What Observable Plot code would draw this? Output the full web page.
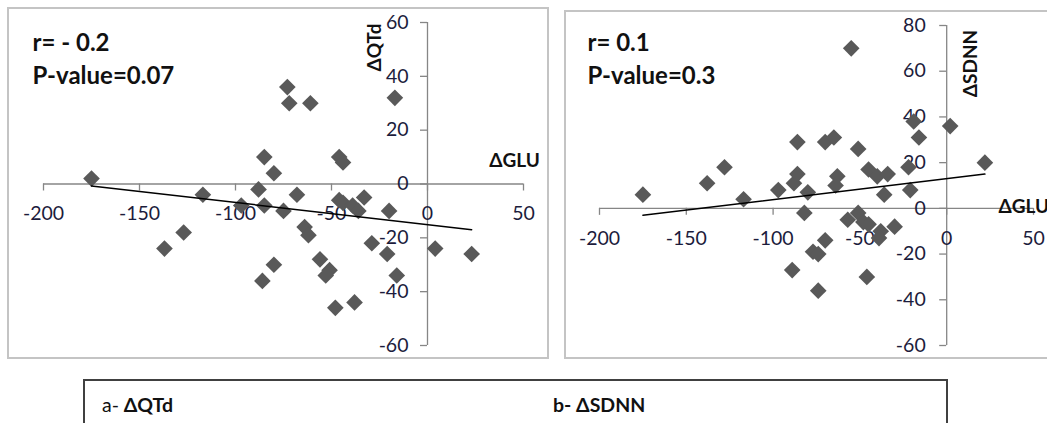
<!DOCTYPE html>
<html>
<head>
<meta charset="utf-8">
<script src="https://cdn.jsdelivr.net/npm/d3@7"></script>
<script src="https://cdn.jsdelivr.net/npm/@observablehq/plot@0.6"></script>
<style>
  html, body { margin: 0; padding: 0; background: #fff; }
  body { width: 1047px; height: 423px; overflow: hidden; position: relative; font-family: Lato, "Open Sans", sans-serif; }
  .panel { position: absolute; }
  .border { position: absolute; border: 2px solid #c4c4c4; box-sizing: border-box; pointer-events: none; }
  .caption { position: absolute; left: 83px; top: 379px; width: 865px; height: 80px; border: 2px solid #404040; box-sizing: border-box; }
  .cap { position: absolute; font-size: 19.5px; line-height: 1; color: #111; font-weight: 700; white-space: nowrap; }
  .cap .n { font-weight: 400; }
</style>
</head>
<body>
<div id="pa" class="panel" style="left:8px;top:8px;"></div>
<div class="border" style="left:7px;top:7px;width:542px;height:352px;"></div>
<div id="pb" class="panel" style="left:565px;top:11px;"></div>
<div class="border" style="left:564px;top:10px;width:520px;height:349px;"></div>
<div class="caption"></div>
<div class="cap" style="left:102px;top:395px;"><span class="n">a-</span> ΔQTd</div>
<div class="cap" style="left:553px;top:395px;">b- ΔSDNN</div>
<script>
// ---- Data ----
const xTicks = [-200, -150, -100, -50, 0, 50];
const yTicksA = [-60, -40, -20, 0, 20, 40, 60];
const yTicksB = [-60, -40, -20, 0, 20, 40, 60, 80];

// Panel a: ΔGLU vs ΔQTd
const gluA = [-175, -117, -137, -127, -97, -88, -85, -80, -85, -86, -80, -75, -73, -72, -61, -68, -64, -62, -56, -51, -53, -48, -38, -46, -44, -46, -44, -39, -33, -36, -17, -20, -29, -21, -16, 4, 23];
const qtd  = [2, -4, -24, -18, -8, -2, 10, 4, -8, -36, -30, -10, 36, 30, 30, -4, -16, -19, -28, -32, -34, -46, -44, 10, 8, -6, -7, -8, -5, -10, 32, -10, -22, -26, -34, -24, -26];
const trendA = {glu: [-175, 23], val: [-0.7, -17]};
const statsA = ["r= - 0.2", "P-value=0.07"];

// Panel b: ΔGLU vs ΔSDNN
const gluB = [-175, -138, -128, -117, -97, -88, -86, -86, -82, -89, -80, -70, -65, -63, -64, -55, -51, -45, -40, -34, -36, -22, -21, -19, -16, 2, 22, -57, -51, -48, -45, -38, -39, -30, -70, -77, -74, -46, -74];
const sdnn = [6, 11, 18, 4, 8, 11, 15, 29, -2, -27, 7, 29, 31, 14, 10, 70, 26, 17, 14, 15, 6, 18, 8, 38, 31, 36, 20, -5, -2, -6, -7, -10, -13, -8, -14, -19, -20, -30, -36];
const trendB = {glu: [-175, 22], val: [-3, 15]};
const statsB = ["r= 0.1", "P-value=0.3"];

const xLabel = "ΔGLU";
const yLabelA = "ΔQTd";
const yLabelB = "ΔSDNN";

// ---- Drawing ----
const pointColor = "#595959";
const axisColor = "#868686";
const tickText = "#1c1c3c";

function panel({xs, ys, trend, yTicks, yDomain, width, height, margins, stats, statsDx, statsDy, yTitle, yTitlePos, xTitlePos, yLabDx}) {
  const pts = xs.map((x, i) => ({x, y: ys[i]}));
  const tr = trend.glu.map((x, i) => ({x, y: trend.val[i]}));
  const xDomain = [xTicks[0], xTicks[xTicks.length - 1]];
  return Plot.plot({
    width, height,
    marginLeft: margins[0], marginRight: margins[1], marginTop: margins[2], marginBottom: margins[3],
    x: {domain: xDomain, axis: null},
    y: {domain: yDomain, axis: null},
    style: {fontFamily: "Lato, 'Open Sans', sans-serif", fontSize: "19px", background: "transparent", overflow: "visible"},
    marks: [
      // axes crossing at zero
      Plot.ruleY([0], {x1: xDomain[0], x2: xDomain[1], stroke: axisColor, strokeWidth: 1.3}),
      Plot.ruleX([0], {y1: yDomain[0], y2: yDomain[1], stroke: axisColor, strokeWidth: 1.3}),
      Plot.ruleX(xTicks, {x: d => d, y1: 0, y2: 0, insetBottom: -7, stroke: axisColor, strokeWidth: 1.3}),
      Plot.ruleY(yTicks, {y: d => d, x1: 0, x2: 0, insetLeft: -7, stroke: axisColor, strokeWidth: 1.3}),
      Plot.text(xTicks, {x: d => d, y: 0, dy: 30, text: d => String(d), fill: tickText, fontSize: 19.5}),
      Plot.text(yTicks, {x: 0, y: d => d, dx: yLabDx, text: d => String(d), textAnchor: "end", fill: tickText, fontSize: 19.5}),
      // data
      Plot.dot(pts, {x: "x", y: "y", symbol: "diamond2", r: 7.5, fill: pointColor, stroke: "none"}),
      Plot.line(tr, {x: "x", y: "y", stroke: "#000", strokeWidth: 1.5}),
      // stats
      Plot.text([stats[0]], {frameAnchor: "top-left", dx: statsDx, dy: statsDy[0], textAnchor: "start", lineAnchor: "bottom", fontSize: 24, fontWeight: 700, fill: "#111"}),
      Plot.text([stats[1]], {frameAnchor: "top-left", dx: statsDx, dy: statsDy[1], textAnchor: "start", lineAnchor: "bottom", fontSize: 24, fontWeight: 700, fill: "#111"}),
      // axis titles
      Plot.text([yTitle], {frameAnchor: "top-left", dx: yTitlePos[0], dy: yTitlePos[1], rotate: -90, textAnchor: "middle", lineAnchor: "middle", fontSize: 19, fontWeight: 700, fill: "#111"}),
      Plot.text([xLabel], {frameAnchor: "top-left", dx: xTitlePos[0], dy: xTitlePos[1], textAnchor: xTitlePos[2], lineAnchor: "middle", fontSize: 19, fontWeight: 700, fill: "#111"})
    ]
  });
}

document.getElementById("pa").append(panel({
  xs: gluA, ys: qtd, trend: trendA, yTicks: yTicksA, yDomain: [yTicksA[0], yTicksA[yTicksA.length - 1]],
  width: 540, height: 350, margins: [35, 25, 14, 13],
  stats: statsA, statsDx: -11, statsDy: [28, 61],
  yTitle: yLabelA, yTitlePos: [331, 25], xTitlePos: [471, 138, "middle"], yLabDx: -19
}));

document.getElementById("pb").append(panel({
  xs: gluB, ys: sdnn, trend: trendB, yTicks: yTicksB, yDomain: [yTicksB[0], yTicksB[yTicksB.length - 1]],
  width: 482, height: 347, margins: [34, 14, 14, 13],
  stats: statsB, statsDx: -12, statsDy: [25, 58],
  yTitle: yLabelB, yTitlePos: [371, 38], xTitlePos: [399, 181, "start"], yLabDx: -21
}));
</script>
</body>
</html>
